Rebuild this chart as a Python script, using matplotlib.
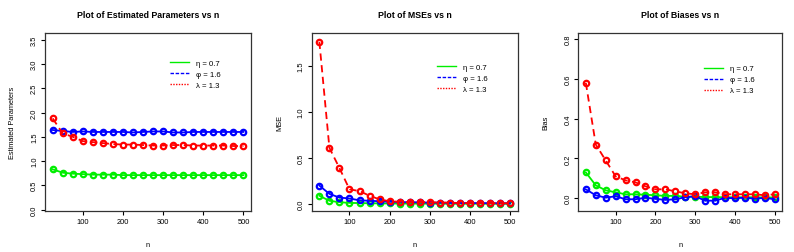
import matplotlib
matplotlib.use('Agg')
import matplotlib.pyplot as plt
from matplotlib.lines import Line2D
import numpy as np

plt.rcParams['font.family'] = ['Liberation Sans', 'DejaVu Sans']

n = list(range(25, 501, 25))

# estimated parameters
est_eta = [0.83, 0.76, 0.74, 0.73, 0.72, 0.72, 0.72, 0.71, 0.71, 0.71,
           0.71, 0.71, 0.71, 0.71, 0.71, 0.71, 0.71, 0.71, 0.71, 0.71]
est_phi = [1.64, 1.62, 1.60, 1.61, 1.60, 1.60, 1.60, 1.60, 1.59, 1.60,
           1.61, 1.61, 1.59, 1.59, 1.60, 1.60, 1.60, 1.60, 1.60, 1.60]
est_lam = [1.88, 1.57, 1.50, 1.41, 1.39, 1.37, 1.35, 1.34, 1.34, 1.33,
           1.32, 1.32, 1.33, 1.33, 1.32, 1.32, 1.32, 1.32, 1.31, 1.31]

# MSEs
mse_eta = [0.09, 0.035, 0.02, 0.012, 0.01, 0.008, 0.007, 0.006, 0.005, 0.005,
           0.004, 0.004, 0.004, 0.003, 0.003, 0.003, 0.003, 0.003, 0.003, 0.003]
mse_phi = [0.20, 0.11, 0.07, 0.06, 0.04, 0.035, 0.03, 0.025, 0.02, 0.02,
           0.018, 0.015, 0.015, 0.012, 0.01, 0.01, 0.01, 0.009, 0.008, 0.008]
mse_lam = [1.76, 0.61, 0.39, 0.16, 0.14, 0.09, 0.05, 0.03, 0.025, 0.02,
           0.02, 0.02, 0.015, 0.015, 0.01, 0.01, 0.01, 0.01, 0.008, 0.008]

# biases
bias_eta = [0.13, 0.065, 0.04, 0.03, 0.02, 0.02, 0.018, 0.015, 0.012, 0.012,
            0.008, 0.008, 0.006, 0.006, 0.005, 0.005, 0.005, 0.005, 0.004, 0.004]
bias_phi = [0.045, 0.015, 0.003, 0.01, -0.005, -0.005, 0.003, -0.003, -0.008, -0.005,
            0.005, 0.01, -0.012, -0.012, 0.002, 0.0, 0.003, -0.002, 0.002, -0.005]
bias_lam = [0.58, 0.27, 0.19, 0.11, 0.09, 0.08, 0.06, 0.045, 0.045, 0.035,
            0.025, 0.02, 0.03, 0.03, 0.02, 0.02, 0.02, 0.02, 0.015, 0.02]

labels = ['\u03b7 = 0.7', '\u03c6 = 1.6', '\u03bb = 1.3']
colors = ['#00ee00', '#0000ff', '#ff0000']

panels = [
    ('Plot of Estimated Parameters vs n', 'Estimated Parameters',
     [est_eta, est_phi, est_lam], (-0.03, 3.64), np.arange(0, 3.51, 0.5),
     [0.0567, 0.162, 0.2595, 0.7036], (0.607, 0.85)),
    ('Plot of MSEs vs n', 'MSE',
     [mse_eta, mse_phi, mse_lam], (-0.076, 1.855), [0.0, 0.5, 1.0, 1.5],
     [0.3926, 0.162, 0.2594, 0.7036], (0.608, 0.83)),
    ('Plot of Biases vs n', 'Bias',
     [bias_eta, bias_phi, bias_lam], (-0.064, 0.83), [0.0, 0.2, 0.4, 0.6, 0.8],
     [0.7283, 0.162, 0.2569, 0.7036], (0.616, 0.82)),
]

fig = plt.figure(figsize=(7.94, 2.53), dpi=100)

for title, ylab, series, ylim, yt, pos, legpos in panels:
    ax = fig.add_axes(pos)
    styles = ['-', '-', (0, (4, 2.5))]
    for vals, col, ls in zip(series, colors, styles):
        ax.plot(n, vals, color=col, linestyle=ls, linewidth=1.3,
                marker='o', markersize=3.9, markerfacecolor='none',
                markeredgewidth=1.6)
    ax.set_xlim(6, 519)
    ax.set_ylim(*ylim)
    ax.set_xticks([100, 200, 300, 400, 500])
    ax.set_yticks(yt)
    ax.set_yticklabels(['%.1f' % v for v in yt], rotation=90, va='center')
    ax.tick_params(labelsize=5.4, length=3, width=0.8, pad=2)
    for s in ax.spines.values():
        s.set_linewidth(0.9)
        s.set_color('#333333')
    ax.text(0.5, 1.103, title, transform=ax.transAxes, ha='center',
            va='center', fontsize=6.3, fontweight='bold')
    ax.set_ylabel(ylab, fontsize=5.3)
    ax.yaxis.set_label_coords(-0.14, 0.5)
    ax.set_xlabel('n', fontsize=5.3)
    ax.xaxis.set_label_coords(0.5, -0.17)
    handles = [Line2D([], [], color=colors[0], lw=1.0, ls='-'),
               Line2D([], [], color=colors[1], lw=1.0, ls=(0, (2.5, 1.2))),
               Line2D([], [], color=colors[2], lw=1.0, ls=(0, (1, 1)))]
    ax.legend(handles, labels, loc='upper left', bbox_to_anchor=legpos,
              frameon=False, fontsize=5.6, handlelength=2.4,
              handletextpad=0.9, labelspacing=0.45, borderpad=0,
              borderaxespad=0)

fig.savefig('out.png', dpi=100)
